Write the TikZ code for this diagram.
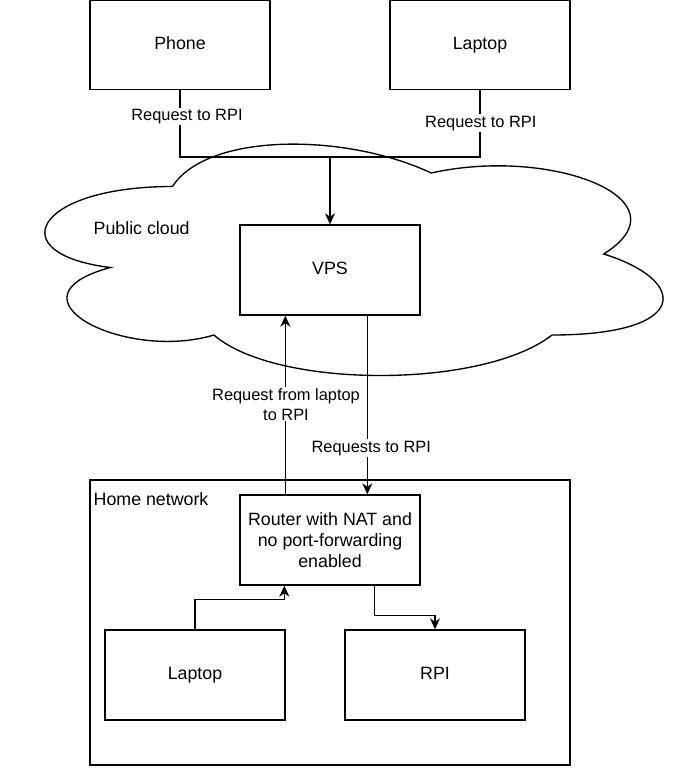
\documentclass[tikz,border=0pt]{standalone}
\usepackage{fontspec}
\setmainfont{Liberation Sans}
\usetikzlibrary{arrows.meta}
\begin{document}
\begin{tikzpicture}[x=1pt,y=-1pt,
  line width=1.35pt,
  nodefont/.style={font=\fontsize{17.8}{21}\selectfont},
  edgefont/.style={font=\fontsize{16.4}{20}\selectfont},
  onetext/.style={text height=12.9pt, text depth=3.7pt},
  edgeone/.style={text height=11.85pt, text depth=3.4pt},
  box/.style={draw, fill=white, minimum width=180pt, minimum height=90pt, inner sep=0pt, nodefont},
  edgelabel/.style={fill=white, inner sep=1pt, edgefont},
  caption/.style={anchor=west, inner sep=0pt, nodefont, onetext},
  arr/.style={-{Stealth[length=11pt,width=10pt,inset=3.5pt]}}
]
\useasboundingbox (0,0) rectangle (693,768);

% cloud outline around the public side
\draw[fill=white] (172.5,186.5)
  .. controls (34.5,186.5) and (0,254) .. (110.4,267.5)
  .. controls (0,297.2) and (124.2,362) .. (213.9,335)
  .. controls (276,389) and (483,389) .. (552,335)
  .. controls (690,335) and (690,281) .. (603.75,254)
  .. controls (690,200) and (552,146) .. (431.25,173)
  .. controls (345,132.5) and (207,132.5) .. (172.5,186.5) -- cycle;
\node[caption] (cloudlabel) at (93,230.1) {Public cloud};

% home network container
\node[draw, minimum width=480pt, minimum height=285pt, inner sep=0pt] (home) at (330,622.5) {};
\node[caption] (homelabel) at (93,500.6) {Home network};

% devices and servers
\node[box, onetext] (phone)  at (180,45) [minimum height=89pt] {Phone};
\node[box, onetext] (laptop) at (480,45) [minimum height=89pt] {Laptop};
\node[box, onetext] (vps)    at (330,270) {VPS};
\node[box, align=center] (router) at (330,540) {Router with NAT and\\no port-forwarding\\enabled};
\node[box, onetext] (laptoph) at (195,675) {Laptop};
\node[box, onetext] (rpi)     at (435,675) {RPI};

% requests from outside towards the VPS
\coordinate (merge) at (330,157);
\draw[arr] (phone.south) |- (merge) -- (vps.north);
\draw (laptop.south) |- (merge);
\node[edgelabel, edgeone] (l1) at (187,116.3) {Request to RPI};
\node[edgelabel, edgeone] (l2) at (480.8,123) {Request to RPI};

% tunnel between router and VPS
\draw[arr] ([xshift=46pt]router.north west) -- ([xshift=46pt]vps.south west);
\draw[arr] ([xshift=128pt]vps.south west) -- ([xshift=128pt]router.north west);
\node[edgelabel, align=center] (l3) at (286,404.4) {Request from laptop\\to RPI};
\node[edgelabel, edgeone] (l4) at (371.3,448) {Requests to RPI};

% traffic inside the home network
\draw[arr] (laptoph.north) -- ++(0,-30) -| ([xshift=45pt]router.south west);
\draw[arr] ([xshift=135pt]router.south west) -- ++(0,30) -| (rpi.north);
\end{tikzpicture}
\end{document}
